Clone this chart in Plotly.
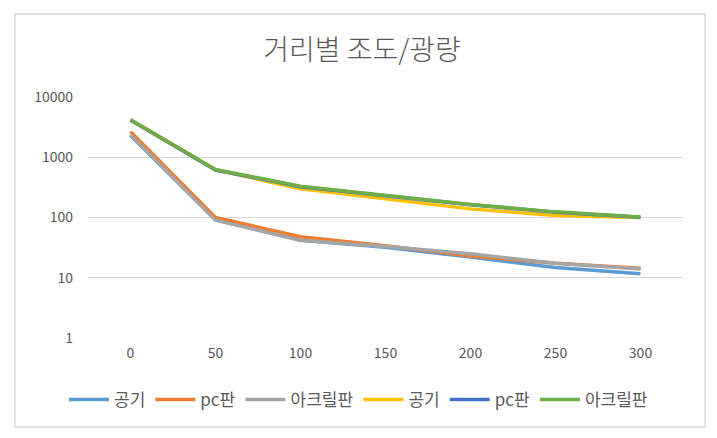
import plotly.graph_objects as go

distances = ["0", "50", "100", "150", "200", "250", "300"]
series_names = ["공기", "pc판", "아크릴판", "공기", "pc판", "아크릴판"]
air_1 = [2300, 92, 42, 32, 22, 14.8, 11.6]
pc_1 = [2650, 100, 48, 34, 23, 17.4, 14.4]
acryl_1 = [2350, 90, 42, 33, 25, 17.4, 14]
air_2 = [4150, 620, 300, 205, 139, 108, 100]
pc_2 = [4150, 615, 325, 230, 163, 122, 101]
acryl_2 = [4200, 625, 330, 235, 165, 124, 102]
colors = ["#5B9BD5", "#ED7D31", "#A5A5A5", "#FFC000", "#4472C4", "#70AD47"]
y_tick_vals = [1, 10, 100, 1000, 10000]
y_tick_text = ["1", "10", "100", "1000", "10000"]

all_series = [air_1, pc_1, acryl_1, air_2, pc_2, acryl_2]

FONT = "Noto Sans CJK KR"
fig = go.Figure()
for name, vals, col in zip(series_names, all_series, colors):
    fig.add_trace(go.Scatter(x=distances, y=vals, name=name, mode="lines",
                             line=dict(color=col, width=3.5)))

W, H = 717, 438
L, R, T, B = 88, 683, 97, 338
pw, ph = R - L, B - T

def px_x(x):
    return (x - L) / pw

def px_y(y):
    return (B - y) / ph

fig.update_layout(
    width=W, height=H,
    margin=dict(l=L, r=W - R, t=T, b=H - B),
    paper_bgcolor="white", plot_bgcolor="white",
    font=dict(family=FONT, color="#595959", size=14),
    title=dict(text="거리별 조도/광량", x=0.505, xanchor="center",
               y=1 - 50 / H, yanchor="middle", yref="container",
               font=dict(size=28, color="#595959", family=FONT, weight=300)),
    xaxis=dict(type="category", range=[-0.5, 6.5], showgrid=False,
               showline=False, zeroline=False, tickfont=dict(size=14, color="#595959"),
               ticks="", ticklabelstandoff=5),
    yaxis=dict(type="log", range=[0, 4], tickvals=y_tick_vals, ticktext=y_tick_text,
               showgrid=True, gridcolor="#D9D9D9", gridwidth=1, zeroline=False,
               showline=False, ticks="", tickfont=dict(size=14, color="#595959"),
               ticklabelstandoff=14),
    legend=dict(orientation="h", x=0.5, xanchor="center", xref="container",
                y=1 - 400 / H, yanchor="middle", yref="container",
                font=dict(size=17, color="#595959", family=FONT),
                itemwidth=40, tracegroupgap=0, bgcolor="rgba(0,0,0,0)"),
    showlegend=True,
    shapes=[dict(type="rect", xref="paper", yref="paper",
                 x0=px_x(15), x1=px_x(705), y0=px_y(427), y1=px_y(14),
                 line=dict(color="#D9D9D9", width=1.5), fillcolor="rgba(0,0,0,0)",
                 layer="below")],
)

fig.write_html("out.html")
